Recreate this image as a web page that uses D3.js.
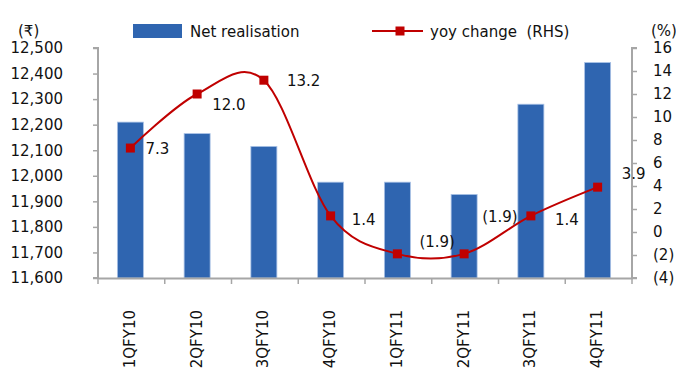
<!DOCTYPE html>
<html>
<head>
<meta charset="utf-8">
<script src="https://cdn.jsdelivr.net/npm/d3@7"></script>
<style>
  body { margin: 0; background: #fff; }
  svg { display: block; font-family: "DejaVu Sans", sans-serif; }
</style>
</head>
<body>
<script>
// chart data
const quarters = ["1QFY10", "2QFY10", "3QFY10", "4QFY10", "1QFY11", "2QFY11", "3QFY11", "4QFY11"];
const netRealisation = [12210, 12165, 12115, 11975, 11975, 11927, 12280, 12443];
const yoyChange = [7.3, 12.0, 13.2, 1.4, -1.9, -1.9, 1.4, 3.9];
const leftTicks = [11600, 11700, 11800, 11900, 12000, 12100, 12200, 12300, 12400, 12500];
const rightTicks = [-4, -2, 0, 2, 4, 6, 8, 10, 12, 14, 16];

// where each data label sits relative to its marker (dx, dy)
const labelOffsets = [[15, 1], [15, 11], [23, 0], [21, 4], [22, -12], [18, -37], [24, 4], [24, -14]];

const W = 676, H = 370;
const m = {left: 98, right: 44, top: 48, bottom: 92};

const svg = d3.select("body").append("svg")
    .attr("width", W)
    .attr("height", H);

const x = d3.scaleBand()
    .domain(quarters)
    .range([m.left, W - m.right]);

const yL = d3.scaleLinear()
    .domain([11600, 12500])
    .range([H - m.bottom, m.top]);

const yR = d3.scaleLinear()
    .domain([-4, 16])
    .range([H - m.bottom, m.top]);

const fmtL = d3.format(",d");
const fmtR = v => v < 0 ? `(${Math.abs(v)})` : `${v}`;
const fmtLabel = v => v < 0 ? `(${d3.format(".1f")(Math.abs(v))})` : d3.format(".1f")(v);

const axisColor = "#a6a6a6";
const barW = 26;

// bars
svg.append("g")
  .selectAll("rect")
  .data(netRealisation)
  .join("rect")
    .attr("x", (d, i) => x(quarters[i]) + x.bandwidth() / 2 - barW / 2 - 1)
    .attr("y", d => yL(d))
    .attr("width", barW)
    .attr("height", d => yL(11600) - yL(d))
    .attr("fill", "#2f65b0")
    .attr("stroke", "#a9c2e6")
    .attr("stroke-width", 0.8);

// axes
const gL = svg.append("g")
    .attr("transform", `translate(${m.left},0)`)
    .call(d3.axisLeft(yL).tickValues(leftTicks).tickFormat(fmtL).tickSize(5).tickPadding(30));
const gR = svg.append("g")
    .attr("transform", `translate(${W - m.right},0)`)
    .call(d3.axisRight(yR).tickValues(rightTicks).tickFormat(fmtR).tickSize(5).tickPadding(16));
const gX = svg.append("g")
    .attr("transform", `translate(0,${H - m.bottom})`)
    .call(d3.axisBottom(x).tickSize(0).tickFormat(""));

[gL, gR, gX].forEach(g => {
  g.select(".domain").attr("stroke", axisColor).attr("stroke-width", 2);
  g.selectAll(".tick line").attr("stroke", axisColor).attr("stroke-width", 1.5);
  g.selectAll("text").attr("fill", "#111").attr("font-size", 15)
      .attr("font-family", "'DejaVu Sans', sans-serif");
});
gL.select(".domain").attr("d", `M-5,${m.top}H0V${H - m.bottom}H-5`);
gR.select(".domain").attr("d", `M5,${m.top}H0V${H - m.bottom}H5`);
gR.selectAll("text").attr("text-anchor", "start").attr("x", 21);

// x ticks between categories
gX.selectAll(".sep")
  .data(d3.range(quarters.length + 1))
  .join("line")
    .attr("class", "sep")
    .attr("x1", i => m.left + i * x.step())
    .attr("x2", i => m.left + i * x.step())
    .attr("y1", 0)
    .attr("y2", 6)
    .attr("stroke", axisColor)
    .attr("stroke-width", 1.5);

// rotated category labels
svg.append("g")
  .selectAll("text")
  .data(quarters)
  .join("text")
    .attr("transform", d => `translate(${x(d) + x.bandwidth() / 2 - 2},310) rotate(-90)`)
    .attr("dy", "0.36em")
    .attr("text-anchor", "end")
    .attr("font-size", 15)
    .attr("fill", "#111")
    .text(d => d);

// smoothed yoy line
const pts = yoyChange.map((v, i) => [x(quarters[i]) + x.bandwidth() / 2 - 1, yR(v)]);

svg.append("path")
    .datum(pts)
    .attr("fill", "none")
    .attr("stroke", "#c00000")
    .attr("stroke-width", 2)
    .attr("d", d3.line().curve(d3.curveCardinal.tension(0)));

svg.append("g")
  .selectAll("rect")
  .data(pts)
  .join("rect")
    .attr("x", d => d[0] - 4.5)
    .attr("y", d => d[1] - 4.5)
    .attr("width", 9)
    .attr("height", 9)
    .attr("fill", "#c00000");

// data labels
svg.append("g")
  .selectAll("text")
  .data(yoyChange)
  .join("text")
    .attr("x", (d, i) => pts[i][0] + labelOffsets[i][0])
    .attr("y", (d, i) => pts[i][1] + labelOffsets[i][1])
    .attr("dy", "0.36em")
    .attr("font-size", 15)
    .attr("fill", "#111")
    .text(fmtLabel);

// axis unit labels
svg.append("text").attr("x", 18).attr("y", 36).attr("font-size", 15).attr("fill", "#111").text("(₹)");
svg.append("text").attr("x", 651).attr("y", 36).attr("font-size", 15).attr("fill", "#111").text("(%)");

// legend
const lg = svg.append("g");
lg.append("rect").attr("x", 133).attr("y", 24).attr("width", 49).attr("height", 14).attr("fill", "#2f65b0");
lg.append("text").attr("x", 190).attr("y", 37).attr("font-size", 15).attr("fill", "#111").text("Net realisation");
lg.append("line").attr("x1", 372).attr("x2", 423).attr("y1", 31).attr("y2", 31)
    .attr("stroke", "#c00000").attr("stroke-width", 2);
lg.append("rect").attr("x", 395.5).attr("y", 26.5).attr("width", 9).attr("height", 9).attr("fill", "#c00000");
lg.append("text").attr("x", 430).attr("y", 37).attr("font-size", 15).attr("fill", "#111")
    .attr("xml:space", "preserve").style("white-space", "pre").text("yoy change  (RHS)");
</script>
</body>
</html>
